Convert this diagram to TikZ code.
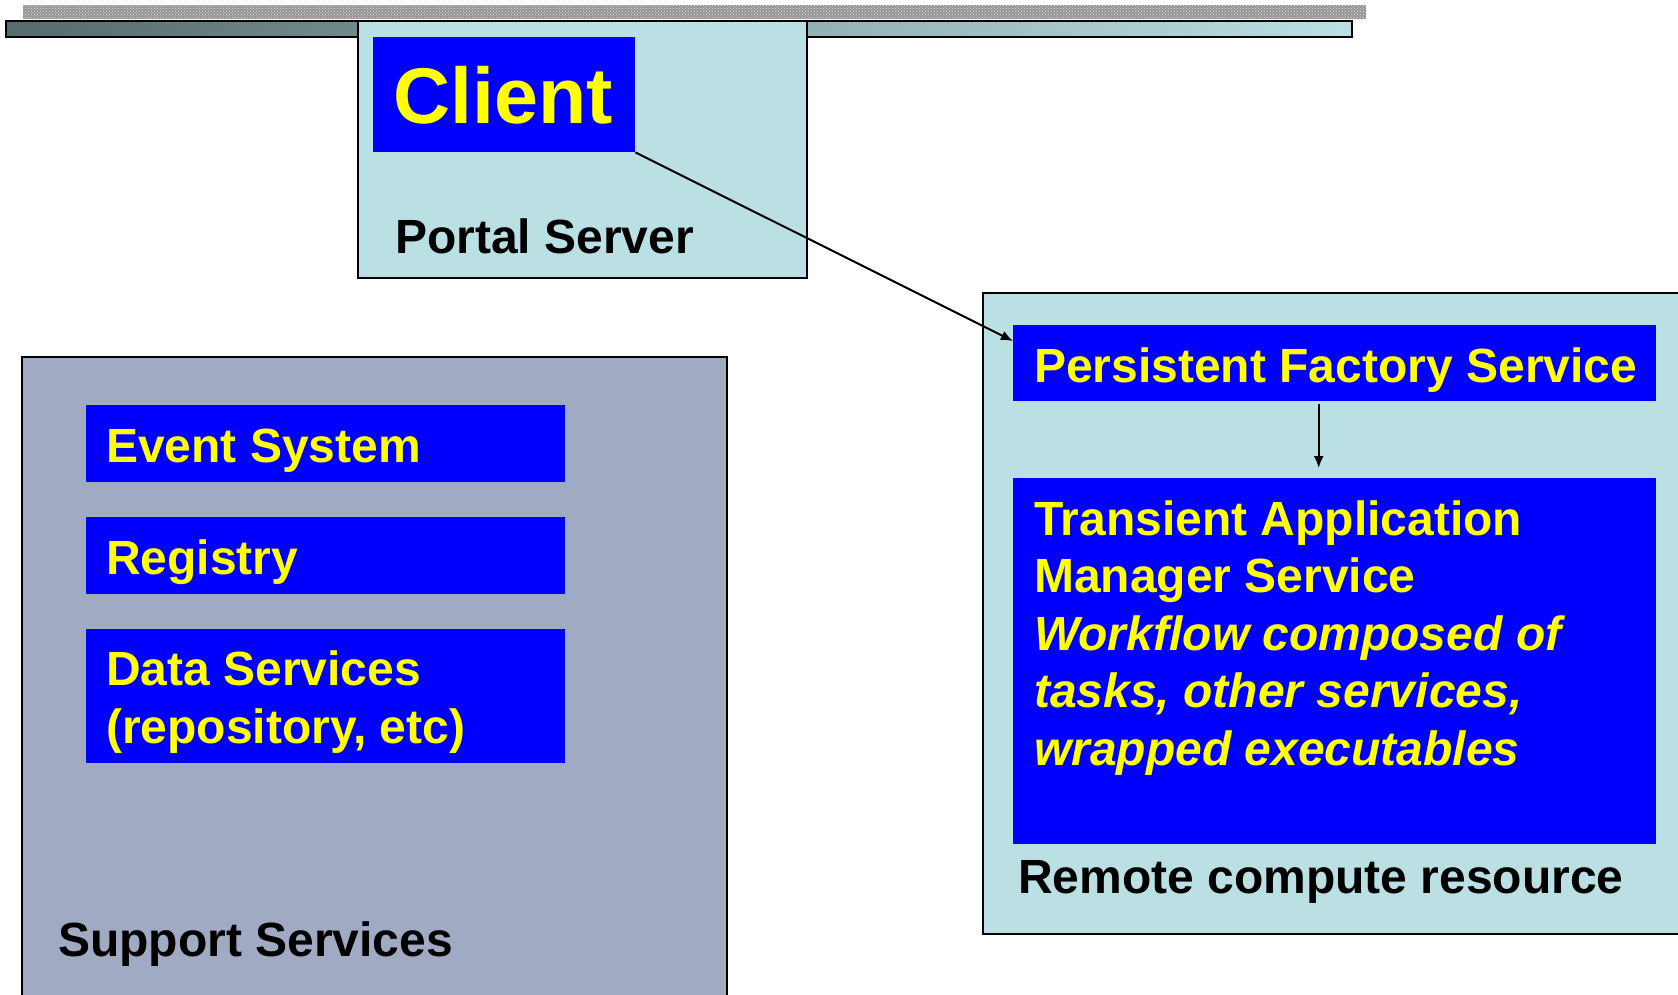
\documentclass[tikz,border=0pt]{standalone}
\usepackage{fontspec}
\setmainfont{Liberation Sans}
\usetikzlibrary{patterns,arrows.meta}
\definecolor{cyanbg}{HTML}{BAE0E3}
\definecolor{graybg}{HTML}{A0AAC2}
\definecolor{darkbar}{HTML}{566B6B}
\definecolor{bluebox}{HTML}{0000FF}
\definecolor{yel}{HTML}{FFFF00}
\definecolor{texgray}{HTML}{959595}
\tikzset{
  frame/.style={draw=black, line width=2pt, inner sep=0pt, anchor=north west},
  bluerect/.style={fill=bluebox, draw=none, inner sep=0pt, anchor=north west},
  ytext/.style={text=yel, font=\bfseries\fontsize{48}{58}\selectfont, inner sep=0pt, anchor=base west},
  yitext/.style={ytext, font=\bfseries\itshape\fontsize{48}{58}\selectfont},
  ktext/.style={text=black, font=\bfseries\fontsize{48}{58}\selectfont, inner sep=0pt, anchor=base west},
  conn/.style={draw=black, line width=2pt, -{Latex[length=12pt,width=10pt]}},
}
\begin{document}
\begin{tikzpicture}[x=1pt,y=-1pt]
\useasboundingbox (0,0) rectangle (1678,994);
\clip (0,0) rectangle (1678,994);
% textured bar
\node[inner sep=0pt, anchor=north west, fill=texgray, minimum width=1343pt, minimum height=14pt] (tex) at (23,5) {};
\fill[pattern=crosshatch dots, pattern color=white!80!gray] (tex.north west) rectangle (tex.south east);
% gradient bar
\node[frame, left color=darkbar, right color=cyanbg, minimum width=1346pt, minimum height=16pt] (bar) at (5,20) {};
% portal server
\node[frame, fill=cyanbg, minimum width=449pt, minimum height=257pt] (portal) at (357,20) {};
\node[bluerect, minimum width=262pt, minimum height=115pt] (client) at (373,37) {};
\node[text=yel, font=\bfseries\fontsize{79}{90}\selectfont, inner sep=0pt, anchor=base west] (clienttxt) at (393,123) {Client};
\node[ktext] (portaltxt) at (395,253) {Portal Server};
% support services
\node[frame, fill=graybg, minimum width=705pt, minimum height=700pt] (support) at (21,356) {};
\node[bluerect, minimum width=479pt, minimum height=77pt] (event) at (86,405) {};
\node[ytext] (eventtxt) at (106,462) {Event System};
\node[bluerect, minimum width=479pt, minimum height=77pt] (registry) at (86,517) {};
\node[ytext] (registrytxt) at (106,574) {Registry};
\node[bluerect, minimum width=479pt, minimum height=134pt] (data) at (86,629) {};
\node[ytext] (datatxt1) at (106,685) {Data Services};
\node[ytext] (datatxt2) at (106,743) {(repository, etc)};
\node[ktext] (supporttxt) at (58,956) {Support Services};
% remote compute resource
\node[frame, fill=cyanbg, minimum width=750pt, minimum height=641pt] (remote) at (982,292) {};
\node[bluerect, minimum width=643pt, minimum height=76pt] (pfs) at (1013,325) {};
\node[ytext] (pfstxt) at (1034,382) {Persistent Factory Service};
\node[bluerect, minimum width=643pt, minimum height=366pt] (tams) at (1013,478) {};
\node[ytext] (t1) at (1034,535) {Transient Application};
\node[ytext] (t2) at (1034,592) {Manager Service};
\node[yitext] (t3) at (1034,650) {Workflow composed of};
\node[yitext] (t4) at (1034,707) {tasks, other services,};
\node[yitext] (t5) at (1034,765) {wrapped executables};
\node[ktext] (remotetxt) at (1018,893) {Remote compute resource};
% connectors
\coordinate (pfsin) at ([yshift=-16pt]pfs.north west);
\draw[conn] (client.south east) -- (pfsin);
\draw[conn, shorten <=3pt, shorten >=10pt] ([xshift=-16pt]pfs.south) -- ([xshift=-16pt]tams.north);
\end{tikzpicture}
\end{document}
